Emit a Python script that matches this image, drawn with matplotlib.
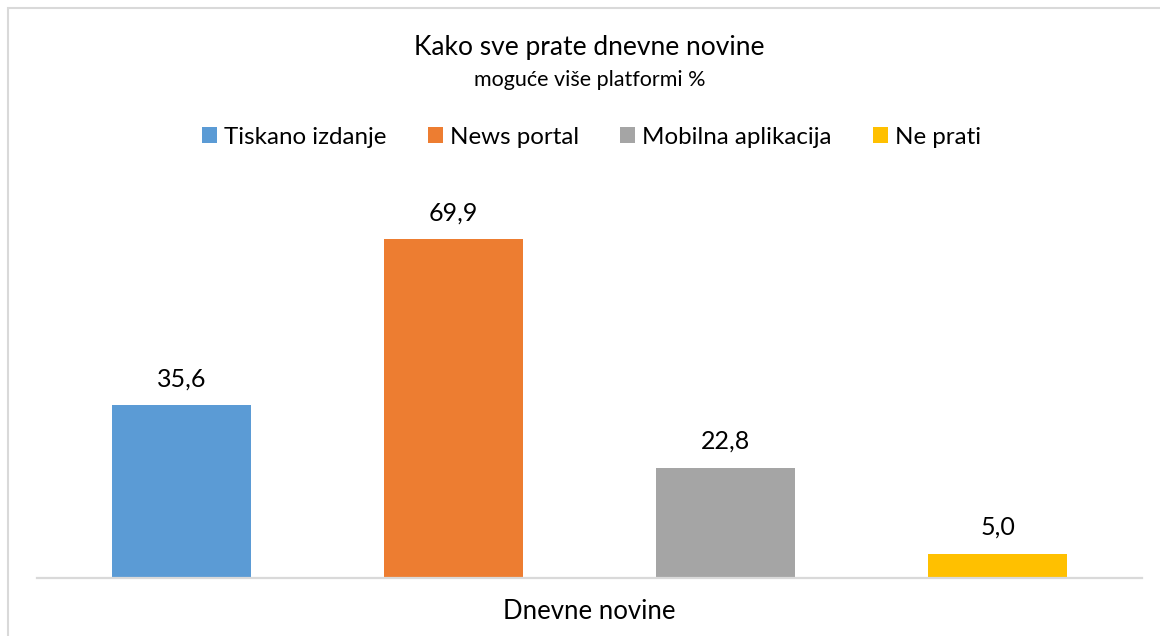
import matplotlib
matplotlib.use("Agg")
import matplotlib.pyplot as plt
import matplotlib.patches as patches
import numpy as np

# data
category = "Dnevne novine"
series = ["Tiskano izdanje", "News portal", "Mobilna aplikacija", "Ne prati"]
values = [35.6, 69.9, 22.8, 5.0]
colors = ["#5B9BD5", "#ED7D31", "#A5A5A5", "#FFC000"]

title = "Kako sve prate dnevne novine"
subtitle = "moguće više platformi %"

plt.rcParams['font.family'] = ['Lato', 'DejaVu Sans']
W, H = 1160, 636
fig = plt.figure(figsize=(W / 100, H / 100), dpi=100)

# axes placed in pixel terms
left, right, bottom, top = 37, 1142, 578, 200
ax = fig.add_axes([left / W, 1 - bottom / H, (right - left) / W, (bottom - top) / H])

x = np.arange(len(series))
bars = ax.bar(x, values, width=0.51, color=colors, label=series, zorder=2)
for b, v in zip(bars, values):
    ax.annotate(f"{v:.1f}".replace(".", ","), (b.get_x() + b.get_width() / 2, v),
                xytext=(0, 19), textcoords="offset points", ha="center", va="center",
                fontsize=18, color="#000000")

ax.set_xlim(-0.531, 3.531)
ax.set_ylim(0, 78)
ax.set_yticks([])
ax.set_xticks([1.5])
ax.set_xticklabels([category], fontsize=18.5)
ax.tick_params(axis="x", length=0, pad=15)
for s in ["top", "left", "right"]:
    ax.spines[s].set_visible(False)
ax.spines["bottom"].set_color("#d9d9d9")
ax.spines["bottom"].set_linewidth(1.6)

cx = (left + right) / 2 / W
fig.text(cx, 1 - 48 / H, title, ha="center", va="center", fontsize=19)
fig.text(cx, 1 - 80 / H, subtitle, ha="center", va="center", fontsize=15.5)

leg = fig.legend(handles=bars, labels=series, loc="center", ncol=4,
                 bbox_to_anchor=(cx + 2 / W, 1 - 137 / H), frameon=False, fontsize=17.4,
                 handlelength=0.62, handleheight=0.62, handletextpad=0.29,
                 columnspacing=1.72)

# outer chart frame
frame = patches.Rectangle((7.5 / W, -0.1), 1.2, 1.1 - 7.5 / H, transform=fig.transFigure,
                          fill=False, edgecolor="#d9d9d9", linewidth=1.5)
fig.patches.append(frame)

fig.savefig("out.png", dpi=100)
